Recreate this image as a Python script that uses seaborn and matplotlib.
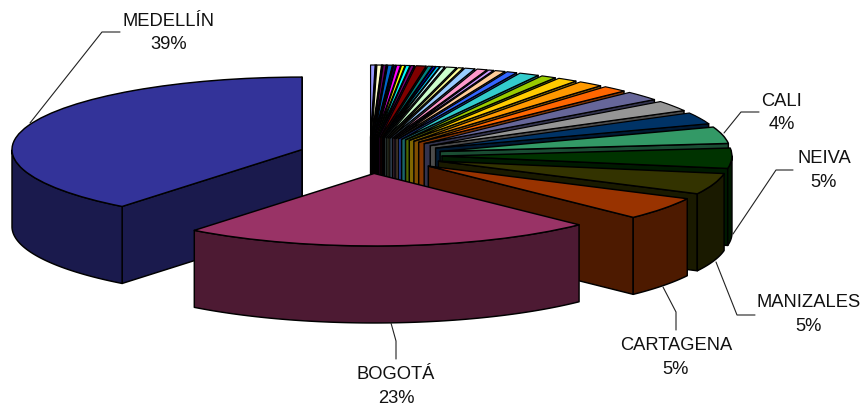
import matplotlib
matplotlib.use("Agg")
import matplotlib.pyplot as plt
import numpy as np
import seaborn as sns

# shares in percent, clockwise from 12 o'clock (small cities first, names not shown)
small_shares = [0.25, 0.03, 0.25, 0.03, 0.17, 0.03, 0.25, 0.03, 0.11, 0.22, 0.19,
                0.22, 0.19, 0.56, 0.25, 0.14, 0.19, 0.22, 0.56, 0.28, 0.56, 0.56,
                0.28, 0.56, 0.56, 1.11, 0.83, 1.11, 1.39, 1.39, 2.08, 2.36, 2.58]
city_names = ["CALI", "NEIVA", "MANIZALES", "CARTAGENA", "BOGOTÁ", "MEDELLÍN"]
city_shares = [3.7, 4.5, 4.7, 5.08, 23.14, 39.36]
city_labels = ["4%", "5%", "5%", "5%", "23%", "39%"]

slice_colors = ["#9999FF", "#993366", "#FFFFCC", "#CCFFFF", "#660066", "#FF8080",
                "#0066CC", "#CCCCFF", "#000080", "#FF00FF", "#FFFF00", "#00FFFF",
                "#800080", "#800000", "#008080", "#0000FF", "#00CCFF", "#CCFFFF",
                "#CCFFCC", "#FFFF99", "#99CCFF", "#FF99CC", "#CC99FF", "#FFCC99",
                "#3366FF", "#33CCCC", "#99CC00", "#FFCC00", "#FF9900", "#FF6600",
                "#666699", "#969696", "#003366", "#339966", "#003300", "#333300",
                "#993300", "#993366", "#333399"]

# label centre and leader line, in image pixels
label_xy = [(782, 101), (824, 159), (809, 303), (676, 346), (396, 375), (169, 21)]
leaders = [[(759, 113), (741, 113), (724, 134)],
           [(793, 171), (776, 171), (733, 235)],
           [(755, 316), (737, 316), (716, 263)],
           [(676, 331), (676, 313), (663, 288)],
           [(396, 360), (396, 342), (391, 324)],
           [(120, 33), (102, 33), (30, 124)]]

# fake 3D: pie is squashed vertically, then extruded downwards
squash = 0.25
cy_px = 156.5
depth = 77 / squash
radius = 290
explode = 72


def py(y_px):
    return (cy_px - y_px) / squash


sns.set_theme(style="white")
plt.rcParams["font.family"] = ["Liberation Sans", "DejaVu Sans"]

fig = plt.figure(figsize=(8.64, 4.06), dpi=100)
ax = fig.add_axes([0, 0, 1, 1])

palette = sns.color_palette(slice_colors, n_colors=len(slice_colors))
shares = small_shares + city_shares
edge = dict(edgecolor="black", linewidth=1.05, joinstyle="round")

wedges, _ = ax.pie(shares, colors=palette, startangle=90, counterclock=False,
                   radius=radius, center=(370, 0), explode=[explode] * len(shares),
                   wedgeprops=edge)
ax.set_aspect("auto")
ax.set_xlim(0, 864)
ax.set_ylim(py(406), py(0))
ax.axis("off")

# back to front: Medellin, then clockwise round to Bogota
order = [len(shares) - 1] + list(range(len(shares) - 1))
for pos, idx in enumerate(order):
    w = wedges[idx]
    cx, cy = w.center
    side = tuple(c * 0.5 for c in palette[idx])
    z = 3 + pos
    if idx < len(small_shares):
        w.set_linewidth(0.85)

    # flat cut faces that look towards the viewer
    for ang, visible in [(w.theta1, np.cos(np.radians(w.theta1)) > 0),
                         (w.theta2, np.cos(np.radians(w.theta2)) < 0)]:
        if visible:
            ex = cx + radius * np.cos(np.radians(ang))
            ey = cy + radius * np.sin(np.radians(ang))
            ax.fill([cx, ex, ex, cx], [cy, ey, ey - depth, cy - depth],
                    facecolor=side, zorder=z, **edge)

    # curved outer wall, lower half of the ellipse only
    t = np.radians(np.linspace(w.theta1, w.theta2, 200))
    t = t[np.sin(t) <= 0]
    if len(t) > 1:
        rx = cx + radius * np.cos(t)
        ry = cy + radius * np.sin(t)
        ax.fill(np.r_[rx, rx[::-1]], np.r_[ry, ry[::-1] - depth],
                facecolor=side, zorder=z + 0.1, **edge)

    w.set_zorder(z + 0.2)

for name, pct, (lx, ly), line in zip(city_names, city_labels, label_xy, leaders):
    ax.text(lx, py(ly), name, ha="center", va="center", fontsize=13.2, color="#111111", zorder=60)
    ax.text(lx, py(ly + 23.5), pct, ha="center", va="center", fontsize=13.2, color="#111111", zorder=60)
    xs, ys = zip(*line)
    ax.plot(xs, [py(v) for v in ys], color="#222222", linewidth=0.8, zorder=59)

fig.savefig("out.png", dpi=100, facecolor="white")
